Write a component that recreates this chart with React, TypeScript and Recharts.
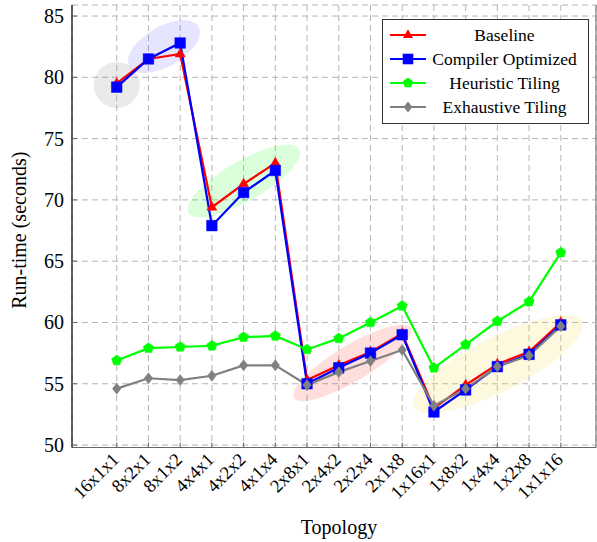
import React from "react";
import { LineChart, Line, XAxis, YAxis, CartesianGrid, Legend, ReferenceDot } from "recharts";

const topologies = [
    "16x1x1", "8x2x1", "8x1x2", "4x4x1", "4x2x2", "4x1x4", "2x8x1", "2x4x2",
    "2x2x4", "2x1x8", "1x16x1", "1x8x2", "1x4x4", "1x2x8", "1x1x16",
];

const baseline = [79.5, 81.5, 81.9, 69.4, 71.3, 73.0, 55.3, 56.5, 57.6, 59.1, 53.0, 54.9, 56.6, 57.6, 60.0];
const compilerOptimized = [79.2, 81.5, 82.8, 67.9, 70.6, 72.4, 55.0, 56.3, 57.5, 59.0, 52.7, 54.5, 56.4, 57.4, 59.8];
const heuristicTiling = [56.9, 57.9, 58.0, 58.1, 58.8, 58.9, 57.8, 58.7, 60.0, 61.35, 56.3, 58.2, 60.1, 61.7, 65.7];
const exhaustiveTiling = [54.6, 55.45, 55.3, 55.65, 56.5, 56.5, 54.9, 55.95, 56.85, 57.75, 53.2, 54.6, 56.4, 57.3, 59.7];

const yTicks = [50, 55, 60, 65, 70, 75, 80, 85];

// highlighted groups, centre in chart units (topology index, seconds)
const highlightIdx = [0, 1.49, 4.01, 7.43, 12.02];
const highlightVal = [79.37, 82.5, 71.55, 56.7, 56.6];

const FONT = "'Liberation Serif', 'Times New Roman', serif";

const highlightStyle = [
    { rx: 23, ry: 23, angle: 0, fill: "#808080", opacity: 0.17 },
    { rx: 40, ry: 20, angle: -30, fill: "#0000ff", opacity: 0.1 },
    { rx: 64, ry: 20, angle: -30, fill: "#00ff00", opacity: 0.14 },
    { rx: 68, ry: 18, angle: -31, fill: "#ff0000", opacity: 0.13 },
    { rx: 94, ry: 27, angle: -27, fill: "#eedd44", opacity: 0.17 },
];

const series = [
    { key: "baseline", name: "Baseline", color: "#ff0000", shape: "triangle" },
    { key: "compiler", name: "Compiler Optimized", color: "#0000ff", shape: "square" },
    { key: "heuristic", name: "Heuristic Tiling", color: "#00ff00", shape: "pentagon" },
    { key: "exhaustive", name: "Exhaustive Tiling", color: "#808080", shape: "diamond" },
];

const data = topologies.map((t, i) => ({
    idx: i,
    topology: t,
    baseline: baseline[i],
    compiler: compilerOptimized[i],
    heuristic: heuristicTiling[i],
    exhaustive: exhaustiveTiling[i],
}));

const markerPoints = (shape: string, cx: number, cy: number) => {
    let pts: number[][] = [];
    if (shape === "triangle") {
        const r = 5.8;
        pts = [[0, -r], [r * 0.866, r / 2], [-r * 0.866, r / 2]];
    } else if (shape === "square") {
        const h = 5.3;
        pts = [[-h, -h], [h, -h], [h, h], [-h, h]];
    } else if (shape === "pentagon") {
        const r = 5.4;
        pts = [0, 1, 2, 3, 4].map((k) => {
            const a = (-90 + 72 * k) * Math.PI / 180;
            return [r * Math.cos(a), r * Math.sin(a)];
        });
    } else {
        pts = [[0, -5.5], [4.3, 0], [0, 5.5], [-4.3, 0]];
    }
    return pts.map(([x, y]) => `${cx + x},${cy + y}`).join(" ");
};

const makeDot = (shape: string, color: string) => (props: any) => {
    const { cx, cy, index } = props;
    if (cx == null || cy == null) return <g key={index} />;
    return <polygon key={index} points={markerPoints(shape, cx, cy)} fill={color} stroke={color} strokeWidth={0.5} />;
};

const XTick = (props: any) => {
    const { x, y, payload } = props;
    const tx = x - 1;
    const ty = y + 9;
    return (
        <g>
            <line x1={x} x2={x} y1={y} y2={y - 5} stroke="#666" strokeWidth={1} />
            <text
                x={tx}
                y={ty}
                textAnchor="end"
                dominantBaseline="central"
                transform={`rotate(-45 ${tx} ${ty})`}
                fontSize={18.5}
                fontFamily={FONT}
                fill="#000"
            >
                {topologies[payload.value]}
            </text>
        </g>
    );
};

const YTick = (props: any) => {
    const { x, y, payload } = props;
    return (
        <g>
            <line x1={x} x2={x + 5} y1={y} y2={y} stroke="#666" strokeWidth={1} />
            <text x={x - 8} y={y} textAnchor="end" dominantBaseline="central" fontSize={20} fontFamily={FONT} fill="#000">
                {payload.value}
            </text>
        </g>
    );
};

const LegendBox = () => (
    <div
        style={{
            border: "1px solid #333",
            background: "#fff",
            width: 205,
            padding: "3px 0 4px 0",
            fontFamily: FONT,
            fontSize: 17.5,
            color: "#000",
            lineHeight: "24px",
        }}
    >
        {series.map((s) => (
            <div key={s.key} style={{ display: "flex", alignItems: "center", height: 24 }}>
                <svg width={46} height={24} style={{ flex: "none" }}>
                    <line x1={7} x2={43} y1={12} y2={12} stroke={s.color} strokeWidth={2} />
                    <polygon points={markerPoints(s.shape, 25, 12)} fill={s.color} />
                </svg>
                <span style={{ flex: 1, textAlign: "center", paddingRight: 8, whiteSpace: "nowrap" }}>{s.name}</span>
            </div>
        ))}
    </div>
);

export default function App() {
    return (
        <div style={{ position: "absolute", left: 0, top: 0, width: 597, height: 542, background: "#fff" }}>
            <LineChart width={597} height={542} data={data} margin={{ top: 5, right: 0, left: 0, bottom: 0 }}>
                <CartesianGrid stroke="#b5b5b5" strokeDasharray="6 4" />
                <XAxis
                    dataKey="idx"
                    type="number"
                    domain={[-1.41, 15.11]}
                    allowDataOverflow
                    ticks={topologies.map((_, i) => i)}
                    interval={0}
                    height={94.5}
                    tickSize={0}
                    tickMargin={0}
                    tickLine={false}
                    axisLine={{ stroke: "#666", strokeWidth: 1.2 }}
                    tick={<XTick />}
                    label={{
                        content: (p: any) => (
                            <text
                                x={p.viewBox.x + p.viewBox.width / 2 + 5}
                                y={p.viewBox.y + 86}
                                textAnchor="middle"
                                fontSize={20}
                                fontFamily={FONT}
                                fill="#000"
                            >
                                Topology
                            </text>
                        ),
                    }}
                />
                <XAxis xAxisId="top" orientation="top" type="number" domain={[-1.41, 15.11]} height={0} tick={false} tickLine={false} axisLine={{ stroke: "#666" }} />
                <YAxis
                    type="number"
                    domain={[49.8, 85.9]}
                    allowDataOverflow
                    ticks={yTicks}
                    interval={0}
                    width={72}
                    tickSize={0}
                    tickMargin={0}
                    tickLine={false}
                    axisLine={{ stroke: "#000", strokeWidth: 1.2 }}
                    tick={<YTick />}
                    label={{
                        content: (p: any) => {
                            const cx = p.viewBox.x + 19;
                            const cy = p.viewBox.y + p.viewBox.height / 2 + 4;
                            return (
                                <text
                                    x={cx}
                                    y={cy}
                                    textAnchor="middle"
                                    dominantBaseline="central"
                                    transform={`rotate(-90 ${cx} ${cy})`}
                                    fontSize={20}
                                    fontFamily={FONT}
                                    fill="#000"
                                >
                                    Run-time (seconds)
                                </text>
                            );
                        },
                    }}
                />
                <YAxis yAxisId="right" orientation="right" type="number" domain={[0, 1]} width={1} tick={false} tickLine={false} axisLine={{ stroke: "#666" }} />
                {highlightIdx.map((hx, i) => {
                    const st = highlightStyle[i];
                    return (
                        <ReferenceDot
                            key={`hl-${i}`}
                            x={hx}
                            y={highlightVal[i]}
                            r={1}
                            zIndex={-10}
                            shape={(p: any) => (
                                <ellipse
                                    cx={p.cx}
                                    cy={p.cy}
                                    rx={st.rx}
                                    ry={st.ry}
                                    transform={`rotate(${st.angle} ${p.cx} ${p.cy})`}
                                    fill={st.fill}
                                    fillOpacity={st.opacity}
                                    stroke="none"
                                />
                            )}
                        />
                    );
                })}
                {series.map((s) => (
                    <Line
                        key={s.key}
                        dataKey={s.key}
                        name={s.name}
                        type="linear"
                        stroke={s.color}
                        strokeWidth={2.2}
                        dot={makeDot(s.shape, s.color)}
                        activeDot={false}
                        isAnimationActive={false}
                    />
                ))}
                <Legend
                    layout="vertical"
                    align="center"
                    verticalAlign="middle"
                    content={<LegendBox />}
                    wrapperStyle={{ top: 19, left: 382, width: 207, bottom: "auto", right: "auto" }}
                />
            </LineChart>
        </div>
    );
}
